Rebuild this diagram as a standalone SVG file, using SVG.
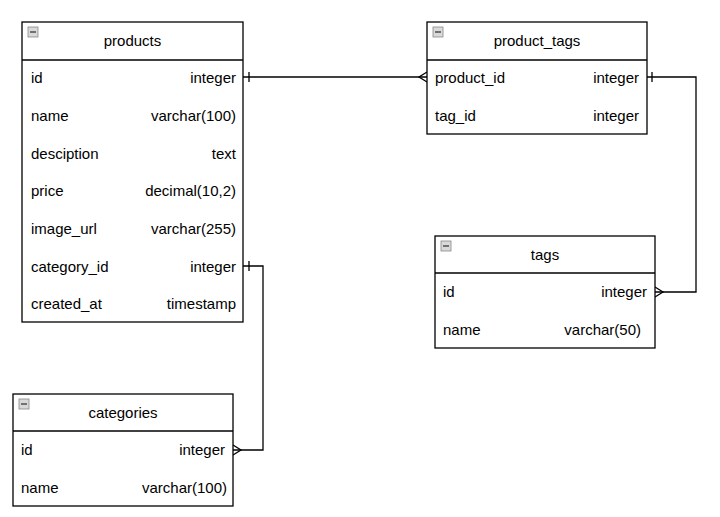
<svg xmlns="http://www.w3.org/2000/svg" width="720" height="517" viewBox="0 0 720 517">
<defs>
<style>
.box{fill:#fff;stroke:#000;stroke-width:1.3}
.div{stroke:#000;stroke-width:1.3}
text{font-family:"Liberation Sans",Arial,sans-serif;font-size:15px;fill:#000}
.t{text-anchor:middle}
.r{text-anchor:end}
.ic{fill:#d9d9d9;stroke:#888;stroke-width:0.8}
.icm{stroke:#444;stroke-width:1.4}
.c{fill:none;stroke:#000;stroke-width:1.3}
</style>
<g id="icon">
<rect class="ic" x="0" y="0" width="10" height="10"/>
<line class="icm" x1="2" y1="5" x2="8" y2="5"/>
</g>
</defs>
<rect width="720" height="517" fill="#fff"/>

<g id="connectors">
<path class="c" d="M243,77 H427"/>
<path class="c" d="M249,72 V82"/>
<path class="c" d="M427,72 L419,77 L427,82"/>
<path class="c" d="M647,77 H696 V292 H655"/>
<path class="c" d="M652,72 V82"/>
<path class="c" d="M655,287 L663,292 L655,297"/>
<path class="c" d="M243,266 H263 V450 H233"/>
<path class="c" d="M249,261 V271"/>
<path class="c" d="M233,445 L241,450 L233,455"/>
</g>

<g id="products">
<rect class="box" x="22" y="22" width="221" height="300"/>
<line class="div" x1="22" y1="60" x2="243" y2="60"/>
<use href="#icon" x="28" y="27"/>
<text class="t" x="132.5" y="46">products</text>
<text x="31" y="83">id</text><text class="r" x="236" y="83">integer</text>
<text x="31" y="121">name</text><text class="r" x="236" y="121">varchar(100)</text>
<text x="31" y="159">desciption</text><text class="r" x="236" y="159">text</text>
<text x="31" y="196">price</text><text class="r" x="236" y="196">decimal(10,2)</text>
<text x="31" y="234">image_url</text><text class="r" x="236" y="234">varchar(255)</text>
<text x="31" y="272">category_id</text><text class="r" x="236" y="272">integer</text>
<text x="31" y="309">created_at</text><text class="r" x="236" y="309">timestamp</text>
</g>

<g id="product_tags">
<rect class="box" x="427" y="22" width="220" height="112"/>
<line class="div" x1="427" y1="60" x2="647" y2="60"/>
<use href="#icon" x="433" y="27"/>
<text class="t" x="537" y="46">product_tags</text>
<text x="435" y="83">product_id</text><text class="r" x="639" y="83">integer</text>
<text x="435" y="121">tag_id</text><text class="r" x="639" y="121">integer</text>
</g>

<g id="tags">
<rect class="box" x="435" y="236" width="220" height="112"/>
<line class="div" x1="435" y1="273" x2="655" y2="273"/>
<use href="#icon" x="441" y="241"/>
<text class="t" x="545" y="260">tags</text>
<text x="443" y="297">id</text><text class="r" x="647" y="297">integer</text>
<text x="443" y="335">name</text><text class="r" x="641" y="335">varchar(50)</text>
</g>

<g id="categories">
<rect class="box" x="13" y="394" width="220" height="112"/>
<line class="div" x1="13" y1="431" x2="233" y2="431"/>
<use href="#icon" x="19" y="399"/>
<text class="t" x="123" y="418">categories</text>
<text x="21" y="455">id</text><text class="r" x="225" y="455">integer</text>
<text x="21" y="493">name</text><text class="r" x="227" y="493">varchar(100)</text>
</g>
</svg>
